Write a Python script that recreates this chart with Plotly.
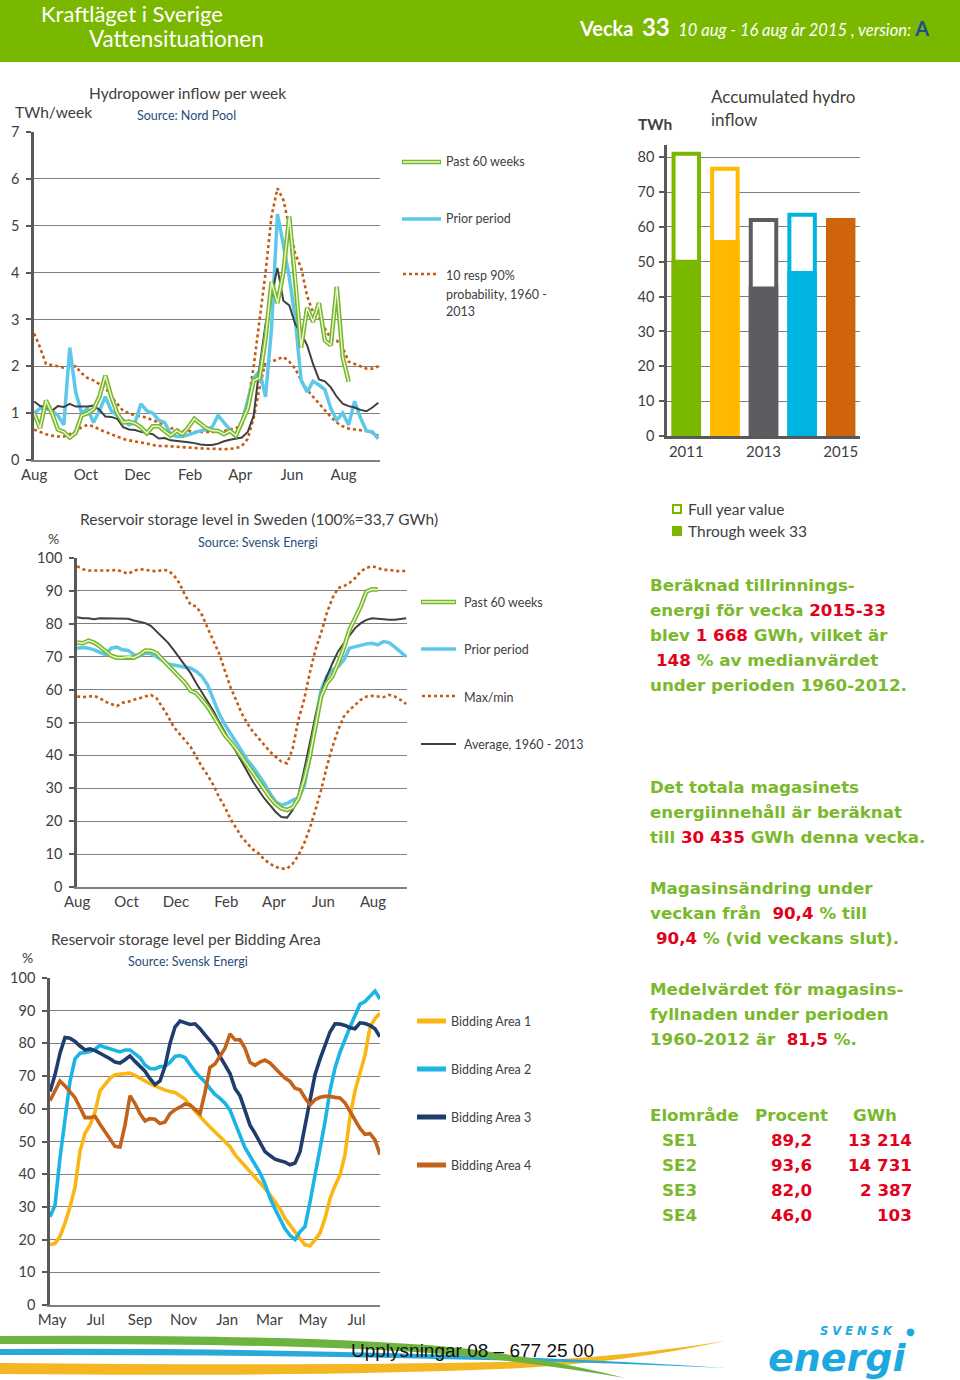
import pandas as pd
import plotly.graph_objects as go

W, H = 960, 1380

# ---------------- data ----------------
# Hydropower inflow per week (TWh/week), weekly from early Aug 2014
inflow_start = "2014-08-01"
inflow_past60 = [1.0, 0.68, 1.27, 1.0, 0.65, 0.6, 0.48, 0.58, 0.95, 1.0,
                 1.08, 1.35, 1.8, 1.35, 1.0, 0.8, 0.82, 0.78, 0.7, 0.57,
                 0.72, 0.72, 0.62, 0.52, 0.62, 0.55, 0.7, 0.88, 0.78, 0.68,
                 0.63, 0.62, 0.55, 0.62, 0.52, 0.8, 1.1, 1.7, 1.75, 2.6,
                 3.8, 3.35, 4.0, 5.2, 3.9, 2.4, 3.25, 2.95, 3.35, 2.55,
                 2.45, 3.7, 2.2, 1.67]
inflow_prior = [1.0, 1.1, 1.1, 1.05, 0.95, 0.75, 2.4, 1.45, 1.0, 1.1,
                0.8, 1.05, 1.35, 1.05, 0.95, 0.85, 0.75, 0.8, 1.2, 1.05,
                1.0, 0.85, 0.8, 0.55, 0.5, 0.5, 0.55, 0.58, 0.62, 0.65,
                0.7, 0.95, 0.8, 0.65, 0.5, 0.8, 1.3, 1.75, 1.9, 1.35,
                2.8, 5.25, 4.6, 3.9, 3.0, 1.7, 1.45, 1.68, 1.6, 1.5,
                1.1, 0.85, 1.0, 0.75, 1.25, 0.9, 0.62, 0.6, 0.45]
inflow_avg = [1.25, 1.15, 1.13, 1.05, 1.15, 1.13, 1.2, 1.14, 1.14, 1.14,
              1.16, 1.07, 0.93, 0.92, 0.88, 0.7, 0.65, 0.64, 0.6, 0.58,
              0.55, 0.46, 0.47, 0.42, 0.41, 0.4, 0.38, 0.36, 0.33, 0.32,
              0.32, 0.35, 0.4, 0.43, 0.45, 0.48, 0.6, 0.95, 2.0, 2.9,
              3.5, 4.1, 3.4, 3.3, 2.9, 2.7, 2.45, 2.05, 1.72, 1.68,
              1.55, 1.35, 1.2, 1.15, 1.12, 1.07, 1.04, 1.12, 1.22]
inflow_p90 = [2.7, 2.4, 2.05, 2.03, 2.0, 1.97, 1.97, 2.0, 1.85, 1.75,
              1.7, 1.62, 1.55, 1.35, 1.2, 1.05, 1.0, 0.95, 0.93, 0.9,
              0.85, 0.8, 0.75, 0.68, 0.65, 0.62, 0.62, 0.6, 0.6, 0.6,
              0.6, 0.6, 0.62, 0.65, 0.68, 0.75, 1.2, 2.0, 3.0, 4.0,
              5.2, 5.8, 5.55, 4.95, 4.4, 4.1, 3.5, 3.15, 3.05, 2.8,
              2.6, 2.55, 2.4, 2.1, 2.05, 2.0, 1.95, 1.95, 2.0]
inflow_p10 = [0.65, 0.6, 0.55, 0.52, 0.5, 0.5, 0.55, 0.62, 0.7, 0.75,
              0.72, 0.65, 0.6, 0.55, 0.5, 0.45, 0.42, 0.4, 0.37, 0.35,
              0.32, 0.3, 0.3, 0.29, 0.28, 0.27, 0.26, 0.25, 0.25, 0.24,
              0.24, 0.23, 0.23, 0.24, 0.25, 0.3, 0.45, 0.9, 1.55, 2.1,
              2.1, 2.15, 2.2, 2.1, 1.95, 1.7, 1.5, 1.35, 1.2, 1.05,
              0.92, 0.8, 0.72, 0.67, 0.65, 0.63, 0.62, 0.58, 0.52]

# Accumulated hydro inflow (TWh)
acc_years = [2011, 2012, 2013, 2014, 2015]
acc_full_year = [81.0, 76.7, 62.0, 63.5, None]
acc_through_w33 = [50.0, 55.7, 42.3, 46.8, 62.0]
acc_colors = ["#7ab800", "#ffb900", "#5b5d60", "#00b4e1", "#d0640c"]

# Reservoir storage level in Sweden (%), weekly from early Aug 2014
storage_past60 = [74.3, 74.1, 74.9, 74.3, 73.1, 71.6, 70.3, 69.7, 69.7, 70.0,
                  69.7, 70.6, 71.9, 71.8, 71.1, 69.2, 67.5, 65.8, 64.0, 62.1,
                  59.7, 58.9, 56.9, 54.8, 52.0, 48.9, 46.2, 44.2, 42.1, 39.6,
                  37.1, 34.5, 32.0, 29.4, 27.2, 25.2, 23.9, 23.4, 24.2, 26.9,
                  32.5, 39.6, 48.7, 57.9, 61.9, 64.0, 68.0, 72.6, 78.2, 81.7,
                  85.3, 89.8, 90.5, 90.4]
storage_prior = [72.6, 72.8, 72.6, 72.1, 71.3, 70.6, 72.6, 72.9, 72.1, 71.9,
                 70.6, 70.3, 71.1, 70.9, 70.0, 68.8, 67.8, 67.5, 67.2, 66.8,
                 66.5, 65.5, 64.0, 61.4, 57.4, 52.8, 49.5, 46.7, 44.2, 41.1,
                 38.6, 36.5, 34.0, 31.5, 28.4, 25.9, 24.9, 25.4, 26.4, 27.1,
                 30.5, 39.1, 50.8, 59.9, 64.0, 66.0, 67.0, 69.0, 72.6, 73.1,
                 73.6, 73.9, 74.1, 73.6, 74.6, 74.3, 72.9, 71.6, 70.0]
storage_avg = [82.0, 81.7, 81.7, 81.4, 81.7, 81.7, 81.7, 81.7, 81.7, 81.5,
               81.0, 80.7, 80.2, 79.4, 77.7, 76.1, 74.3, 72.1, 69.8, 67.5,
               65.0, 61.9, 59.1, 56.3, 53.6, 50.3, 47.2, 44.2, 41.1, 38.1,
               35.0, 32.0, 29.4, 26.9, 24.9, 22.8, 21.3, 21.1, 23.4, 27.9,
               35.5, 43.7, 51.8, 58.9, 64.0, 68.0, 71.6, 74.1, 76.6, 78.7,
               80.2, 81.2, 81.7, 81.5, 81.2, 81.2, 81.2, 81.4, 81.7]
storage_max = [97.5, 96.6, 96.2, 96.2, 96.1, 96.2, 96.2, 96.4, 95.9, 95.2,
               96.1, 96.6, 96.4, 96.1, 95.9, 96.4, 96.2, 94.9, 92.4, 88.8,
               85.8, 85.3, 82.7, 78.7, 75.1, 71.1, 66.0, 60.9, 56.9, 52.8,
               49.7, 47.2, 45.2, 43.1, 41.1, 39.6, 38.1, 37.6, 42.1, 50.8,
               56.9, 65.0, 72.1, 77.2, 83.2, 87.8, 90.9, 91.4, 92.4, 93.9,
               95.9, 97.0, 97.5, 97.0, 96.4, 96.4, 96.1, 95.9, 96.2]
storage_min = [57.9, 57.7, 57.9, 58.1, 57.4, 56.3, 55.6, 55.0, 56.0, 56.3,
               56.9, 57.4, 58.1, 58.4, 57.4, 54.8, 52.0, 48.7, 46.7, 44.7,
               42.6, 39.6, 36.5, 34.0, 31.0, 27.4, 24.4, 20.8, 17.8, 15.2,
               13.2, 11.4, 10.2, 8.3, 7.1, 6.1, 5.6, 5.6, 7.1, 9.6,
               13.2, 17.8, 23.4, 29.4, 36.5, 42.6, 47.7, 51.8, 53.8, 55.3,
               56.9, 57.9, 58.1, 57.9, 57.7, 58.4, 57.9, 56.9, 55.6]

# Reservoir storage level per bidding area (%), weekly from end of Apr 2014
area_start = "2014-04-28"
area1 = [18.5, 18.8, 21, 25, 30, 36, 47, 52.5, 55, 59,
         65.5, 67.5, 69.3, 70.4, 70.5, 70.6, 70.9, 70.2, 69.3, 68.5,
         67.7, 67, 66.3, 65.7, 65.3, 65, 64, 63, 61, 59.2,
         57.5, 56, 54.4, 52.8, 51.3, 49.8, 48.4, 46, 44.3, 42.8,
         40.8, 39.3, 37.6, 35.6, 33.7, 31.6, 29.4, 26.5, 24.3, 22.5,
         20.3, 18.4, 18.1, 19.9, 22, 26.5, 32.5, 36.5, 39.8, 46,
         57.5, 65.5, 71, 76.4, 85, 87.6, 89.2]
area2 = [27, 30.5, 45, 57, 68.4, 75.3, 77, 77.2, 77.5, 78.2,
         79.4, 78.8, 78.4, 78, 77.4, 78, 78, 76.8, 75.6, 73.4,
         72.3, 72.2, 72.9, 73, 74.2, 76, 76.3, 75.7, 73.5, 71.4,
         69.7, 68.2, 66.2, 64.4, 63.2, 61.7, 59.6, 55.4, 51.9, 48.1,
         45.5, 43.2, 40.4, 37, 32.7, 29.4, 26.5, 23.3, 21.3, 20,
         22.4, 24, 31.5, 39.5, 47.5, 56, 65.5, 72.5, 77.3, 81.4,
         85, 88.5, 92, 92.8, 94.5, 96, 93.6]
area3 = [65.3, 70.4, 77, 81.8, 81.6, 80.6, 79.2, 78, 78.3, 77.8,
         77, 76.3, 75.3, 74.3, 74, 75, 76.2, 74.5, 73, 71.5,
         69.2, 67.4, 68.5, 73, 80, 85, 86.8, 86.4, 85.8, 86,
         84.5, 82.6, 80.8, 79, 76, 73.3, 70.8, 66.2, 64, 59.5,
         55, 52.5, 49.8, 46.9, 45.7, 44.6, 44.1, 43.7, 42.9, 43.4,
         46.9, 55, 62.2, 70.4, 75.2, 79, 83.5, 86, 85.9, 85.5,
         84.8, 84.5, 86.3, 86.1, 85.5, 84.5, 82.0]
area4 = [62.5, 65.3, 68.5, 67, 65.3, 63.4, 60.4, 57.3, 57.3, 57.7,
         55.3, 53, 50.6, 48.5, 48.3, 55, 64, 61.6, 58.5, 56.3,
         57, 56.8, 55.5, 56, 58.5, 59.7, 60.5, 61.5, 61.2, 60,
         58.5, 65, 72.7, 73.7, 75.9, 78.5, 82.9, 81.1, 81.1, 78.5,
         74.2, 73.3, 74.3, 74.9, 74, 72.6, 70.9, 69.4, 68.4, 66.3,
         65.8, 63.3, 61.2, 62.8, 63.5, 63.8, 63.8, 63.5, 63.3, 61.8,
         59.3, 56.3, 54, 52.2, 52.4, 50.5, 46.0]
area_names = ["Bidding Area 1", "Bidding Area 2", "Bidding Area 3", "Bidding Area 4"]
area_colors = ["#fbb615", "#1cb4e3", "#1f3c6e", "#c5621a"]

# text panel
table_rows = [("SE1", "89,2", "13 214"), ("SE2", "93,6", "14 731"),
              ("SE3", "82,0", "2 387"), ("SE4", "46,0", "103")]

# ---------------- helpers ----------------
GREEN_TXT = "#7ab82c"
RED_TXT = "#e2001a"
GRAY_TXT = "#404040"
SRC_BLUE = "#1f4e79"
GRID = "#808080"
AXIS = "#595959"
FONT = "Lato"


def PX(x):
    return x / W


def PY(y):
    return 1 - y / H


def weeks(start, n):
    return pd.date_range(start, periods=n, freq="7D")


fig = go.Figure()

# ---------- chart 1: hydropower inflow ----------
d1 = weeks(inflow_start, len(inflow_prior))
dot = dict(color="#c55a11", width=2.6, dash="dot")
fig.add_trace(go.Scatter(x=d1, y=inflow_p90, mode="lines", line=dot, xaxis="x", yaxis="y"))
fig.add_trace(go.Scatter(x=d1, y=inflow_p10, mode="lines", line=dot, xaxis="x", yaxis="y"))
fig.add_trace(go.Scatter(x=d1, y=inflow_prior, mode="lines",
                         line=dict(color="#5ec8ea", width=3.5), xaxis="x", yaxis="y"))
fig.add_trace(go.Scatter(x=d1, y=inflow_avg, mode="lines",
                         line=dict(color="#404040", width=2), xaxis="x", yaxis="y"))
fig.add_trace(go.Scatter(x=d1[:len(inflow_past60)], y=inflow_past60, mode="lines",
                         line=dict(color="#76b82a", width=4.5), xaxis="x", yaxis="y"))
fig.add_trace(go.Scatter(x=d1[:len(inflow_past60)], y=inflow_past60, mode="lines",
                         line=dict(color="#eef6d8", width=1.4), xaxis="x", yaxis="y"))

# ---------- chart 2: accumulated inflow bars ----------
fig.add_trace(go.Bar(x=acc_years, y=acc_full_year, width=0.66,
                     marker=dict(color="white", line=dict(color=acc_colors, width=4)),
                     xaxis="x2", yaxis="y2"))
fig.add_trace(go.Bar(x=acc_years, y=acc_through_w33, width=0.66,
                     marker=dict(color=acc_colors, line=dict(color=acc_colors, width=4)),
                     xaxis="x2", yaxis="y2"))

# ---------- chart 3: storage Sweden ----------
d3 = weeks(inflow_start, len(storage_prior))
fig.add_trace(go.Scatter(x=d3, y=storage_max, mode="lines", line=dot, xaxis="x3", yaxis="y3"))
fig.add_trace(go.Scatter(x=d3, y=storage_min, mode="lines", line=dot, xaxis="x3", yaxis="y3"))
fig.add_trace(go.Scatter(x=d3, y=storage_prior, mode="lines",
                         line=dict(color="#5ec8ea", width=3.5), xaxis="x3", yaxis="y3"))
fig.add_trace(go.Scatter(x=d3, y=storage_avg, mode="lines",
                         line=dict(color="#404040", width=2), xaxis="x3", yaxis="y3"))
fig.add_trace(go.Scatter(x=d3[:len(storage_past60)], y=storage_past60, mode="lines",
                         line=dict(color="#76b82a", width=4.5), xaxis="x3", yaxis="y3"))
fig.add_trace(go.Scatter(x=d3[:len(storage_past60)], y=storage_past60, mode="lines",
                         line=dict(color="#eef6d8", width=1.4), xaxis="x3", yaxis="y3"))

# ---------- chart 4: bidding areas ----------
d4 = weeks(area_start, len(area1))
for vals, col in zip([area1, area2, area3, area4], area_colors):
    fig.add_trace(go.Scatter(x=d4, y=vals, mode="lines", line=dict(color=col, width=3.6),
                             xaxis="x4", yaxis="y4"))

# ---------------- axes ----------------
tickfont = dict(family=FONT, size=15, color=GRAY_TXT)


def yax(dom, rng, dtick, standoff, anchor):
    return dict(domain=dom, range=rng, dtick=dtick, showgrid=True, gridcolor=GRID, gridwidth=1.4,
                zeroline=False, showline=True, linecolor=AXIS, linewidth=2.5,
                ticks="outside", ticklen=5, tickcolor=AXIS, tickwidth=1.5,
                tickfont=dict(family=FONT, size=14.5, color=GRAY_TXT),
                ticklabelstandoff=standoff, anchor=anchor, automargin=False, fixedrange=True)


def xdate(dom, rng, tick0, anchor):
    return dict(domain=dom, range=rng, type="date", dtick="M2", tick0=tick0, tickformat="%b",
                showgrid=False, zeroline=False, showline=True, linecolor=GRID, linewidth=2,
                ticks="", tickfont=tickfont, anchor=anchor, automargin=False, fixedrange=True)


fig.update_layout(
    width=W, height=H, margin=dict(l=0, r=0, t=0, b=0, pad=0), autosize=False,
    paper_bgcolor="white", plot_bgcolor="rgba(0,0,0,0)",
    showlegend=False, barmode="overlay",
    xaxis=xdate([PX(34), PX(380)], ["2014-07-31 20:00", "2015-09-13"], "2014-08-01", "y"),
    yaxis=yax([PY(460), PY(132)], [0, 7], 1, 4, "x"),
    xaxis2=dict(domain=[PX(667), PX(860)], range=[2010.5, 2015.5], tickvals=[2011, 2013, 2015],
                showgrid=False, zeroline=False, showline=True, linecolor=AXIS, linewidth=2.5,
                ticks="", tickfont=tickfont, anchor="y2", automargin=False, fixedrange=True),
    yaxis2=yax([PY(436), PY(145)], [0, 83.5], 10, 2, "x2"),
    xaxis3=xdate([PX(77), PX(407)], ["2014-07-31 20:00", "2015-09-12"], "2014-08-01", "y3"),
    yaxis3=yax([PY(887), PY(558)], [0, 100], 10, 4, "x3"),
    xaxis4=xdate([PX(50), PX(380)], ["2014-04-28", "2015-08-03"], "2014-05-01", "y4"),
    yaxis4=yax([PY(1305), PY(978)], [0, 100], 10, 4, "x4"),
)


# ---------------- text / decoration helpers ----------------
def T(x, y, text, size=15, color=GRAY_TXT, anchor="left", family=FONT):
    fig.add_annotation(x=PX(x), y=PY(y), xref="paper", yref="paper", text=text, showarrow=False,
                       xanchor=anchor, yanchor="middle", font=dict(size=size, color=color, family=family))


def L(x0, x1, y, color, width, dash="solid"):
    fig.add_shape(type="line", xref="paper", yref="paper", x0=PX(x0), x1=PX(x1), y0=PY(y), y1=PY(y),
                  line=dict(color=color, width=width, dash=dash))


def path(pts):
    out = []
    for tok in pts:
        if isinstance(tok, str):
            out.append(tok)
        else:
            out.append(f"{PX(tok[0]):.5f},{PY(tok[1]):.5f}")
    return " ".join(out)


# header band
fig.add_shape(type="rect", xref="paper", yref="paper", x0=0, x1=1, y0=PY(62), y1=1,
              fillcolor="#7ab800", line=dict(width=0), layer="below")
T(39, 14, "Kraftläget i Sverige", size=22, color="white")
T(87, 39, "Vattensituationen", size=22.5, color="white")
T(577, 27, "<b><span style='font-size:20px'>Vecka</span></b>  <b><span style='font-size:24px'>33</span></b>"
           "  <i>10 aug - 16 aug år 2015 , version:</i> "
           "<b><span style='font-size:20px;fill:#1f4e8c'>A</span></b>", size=16.5, color="white")

# chart 1 titles & legend
T(187, 93, "Hydropower inflow per week", size=15.5, anchor="center")
T(13, 112, "TWh/week", size=15.5)
T(135, 115, "Source: Nord Pool", size=12.5, color=SRC_BLUE)
L(402, 441, 162, "#76b82a", 4.5)
L(403, 440, 162, "#eef6d8", 1.4)
T(444, 162, "Past 60 weeks", size=12.5)
L(402, 441, 219, "#5ec8ea", 3.5)
T(444, 219, "Prior period", size=12.5)
L(403, 436, 274, "#c55a11", 2.6, "dot")
T(444, 276, "10 resp 90%", size=12.5)
T(444, 294, "probability, 1960 -", size=12.5)
T(444, 311, "2013", size=12.5)

# chart 2 titles & legend
T(709, 96, "Accumulated hydro", size=17)
T(709, 120, "inflow", size=17)
T(636, 124, "<b>TWh</b>", size=15.5)
fig.add_shape(type="rect", xref="paper", yref="paper", x0=PX(673), x1=PX(681), y0=PY(513), y1=PY(505),
              fillcolor="white", line=dict(color="#7ab800", width=2))
fig.add_shape(type="rect", xref="paper", yref="paper", x0=PX(672), x1=PX(682), y0=PY(536), y1=PY(526),
              fillcolor="#7ab800", line=dict(width=0))
T(686, 509, "Full year value", size=15.5)
T(686, 531, "Through week 33", size=15.5)

# chart 3 titles & legend
T(78, 519, "Reservoir storage level in Sweden (100%=33,7 GWh)", size=15.5)
T(46, 538, "%", size=14)
T(258, 542, "Source: Svensk Energi", size=12.5, color=SRC_BLUE, anchor="center")
L(421, 456, 602, "#76b82a", 4.5)
L(422, 455, 602, "#eef6d8", 1.4)
T(462, 602, "Past 60 weeks", size=12.5)
L(421, 456, 649, "#5ec8ea", 3.5)
T(462, 649, "Prior period", size=12.5)
L(422, 455, 696, "#c55a11", 2.6, "dot")
T(462, 697, "Max/min", size=12.5)
L(421, 456, 744, "#404040", 2)
T(462, 745, "Average, 1960 - 2013", size=12.5)

# chart 4 titles & legend
T(49, 939, "Reservoir storage level per Bidding Area", size=15.5)
T(20, 958, "%", size=14)
T(188, 961, "Source: Svensk Energi", size=12.5, color=SRC_BLUE, anchor="center")
for i, (nm, col) in enumerate(zip(area_names, area_colors)):
    yy = 1021 + 48 * i
    L(417, 446, yy, col, 5)
    T(449, yy, nm, size=12.5)

# right text panel
TF = "DejaVu Sans"
TS = 16.7


def G(x, y, text):
    T(x, y, "<b>" + text + "</b>", size=TS, color=GREEN_TXT, family=TF)


def R(s):
    return f"<span style='fill:{RED_TXT}'>{s}</span>"


G(648, 585, "Beräknad tillrinnings-")
G(648, 610, "energi för vecka " + R("2015-33"))
G(648, 635, "blev " + R("1 668") + " GWh, vilket är")
G(654, 660, R("148") + " % av medianvärdet")
G(648, 685, "under perioden 1960-2012.")

G(648, 787, "Det totala magasinets")
G(648, 812, "energiinnehåll är beräknat")
G(648, 837, "till " + R("30 435") + " GWh denna vecka.")

G(648, 888, "Magasinsändring under")
G(648, 913, "veckan från  " + R("90,4") + " % till")
G(654, 938, R("90,4") + " % (vid veckans slut).")

G(648, 989, "Medelvärdet för magasins-")
G(648, 1014, "fyllnaden under perioden")
G(648, 1039, "1960-2012 är  " + R("81,5") + " %.")

G(648, 1115, "Elområde")
G(753, 1115, "Procent")
G(851, 1115, "GWh")
for i, (se, pc, gwh) in enumerate(table_rows):
    yy = 1140 + 25 * i
    G(660, yy, se)
    T(814, yy, "<b>" + pc + "</b>", size=TS, color=RED_TXT, family=TF, anchor="right")
    T(914, yy, "<b>" + gwh + "</b>", size=TS, color=RED_TXT, family=TF, anchor="right")

# footer swooshes
fig.add_shape(type="path", xref="paper", yref="paper", layer="below", line=dict(width=0),
              fillcolor="#f4b621",
              path=path(["M", (0, 1363), "Q", (300, 1366), (500, 1362), "Q", (620, 1358), (725, 1341),
                         "Q", (620, 1364), (500, 1369), "Q", (300, 1377), (0, 1374), "Z"]))
fig.add_shape(type="path", xref="paper", yref="paper", layer="below", line=dict(width=0),
              fillcolor="#29a9d8",
              path=path(["M", (0, 1349), "Q", (400, 1347), (725, 1368),
                         "Q", (400, 1354), (0, 1355), "Z"]))
fig.add_shape(type="path", xref="paper", yref="paper", layer="below", line=dict(width=0),
              fillcolor="#6cb33f",
              path=path(["M", (0, 1336), "Q", (330, 1334), (470, 1349), "Q", (560, 1361), (625, 1378),
                         "Q", (555, 1366), (465, 1356), "Q", (330, 1343), (0, 1344), "Z"]))
T(349, 1350, "Upplysningar 08 – 677 25 00", size=19, color="#111111", family="Liberation Sans")

# logo
T(856, 1331, "<b><i>S V E N S K</i></b>", size=11.5, color="#1ca9e1", family="DejaVu Sans", anchor="center")
T(910, 1331, "●", size=10, color="#1ca9e1", family="DejaVu Sans", anchor="center")
T(837, 1358, "<b><i>energi</i></b>", size=38, color="#1ca9e1", family="DejaVu Sans", anchor="center")

fig.write_html("out.html", config={"displayModeBar": False},
               post_script="document.body.style.margin='0';")
